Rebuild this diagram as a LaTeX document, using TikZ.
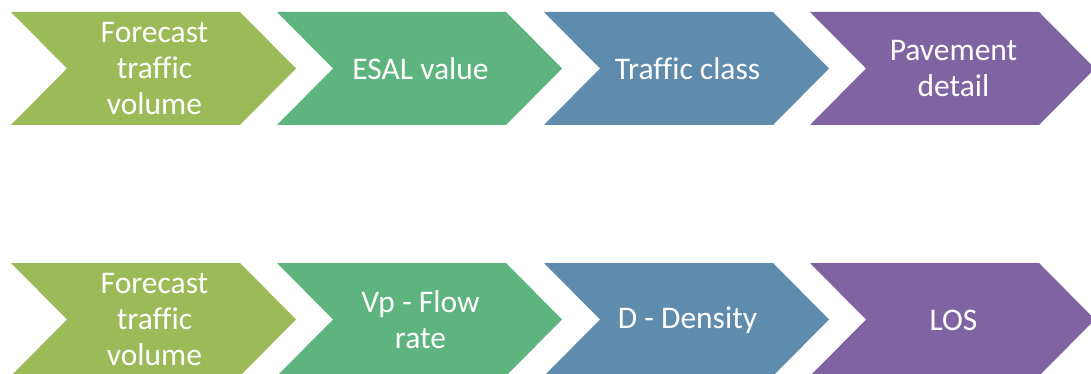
\documentclass[tikz,border=0pt]{standalone}
\usepackage{fontspec}
\setmainfont[Ligatures=CommonOff]{Carlito}
\definecolor{cA}{HTML}{9BBB59}
\definecolor{cB}{HTML}{5DB47E}
\definecolor{cC}{HTML}{5F8CAD}
\definecolor{cD}{HTML}{8064A2}
\tikzset{lbl/.style={text=white, align=center, font=\fontsize{31.5}{36}\selectfont, inner sep=0pt}}
\begin{document}
\begin{tikzpicture}[x=1pt,y=-1pt]
\useasboundingbox (0,0) rectangle (1091,374);
% row 1
\fill[cA] (11,12) -- (240,12) -- (296,68.5) -- (240,125) -- (11,125) -- (67,68.5) -- cycle;
\fill[cB] (277,12) -- (506,12) -- (562,68.5) -- (506,125) -- (277,125) -- (333,68.5) -- cycle;
\fill[cC] (544,12) -- (773,12) -- (829,68.5) -- (773,125) -- (544,125) -- (600,68.5) -- cycle;
\fill[cD] (810,12) -- (1039,12) -- (1095,68.5) -- (1039,125) -- (810,125) -- (866,68.5) -- cycle;
\node[lbl] (a1) at (154.5,69) {Forecast\\traffic\\volume};
\node[lbl] (a2) at (420.5,69) {ESAL value};
\node[lbl] (a3) at (687.5,69) {Traffic class};
\node[lbl] (a4) at (953.5,69) {Pavement\\detail};
% row 2
\fill[cA] (11,263) -- (240,263) -- (296,319.5) -- (240,376) -- (11,376) -- (67,319.5) -- cycle;
\fill[cB] (277,263) -- (506,263) -- (562,319.5) -- (506,376) -- (277,376) -- (333,319.5) -- cycle;
\fill[cC] (544,263) -- (773,263) -- (829,319.5) -- (773,376) -- (544,376) -- (600,319.5) -- cycle;
\fill[cD] (810,263) -- (1039,263) -- (1095,319.5) -- (1039,376) -- (810,376) -- (866,319.5) -- cycle;
\node[lbl] (b1) at (154.5,320) {Forecast\\traffic\\volume};
\node[lbl] (b2) at (420.5,320) {Vp - Flow\\rate};
\node[lbl] (b3) at (687.5,320) {D - Density};
\node[lbl] (b4) at (953.5,320) {LOS};
\end{tikzpicture}
\end{document}
